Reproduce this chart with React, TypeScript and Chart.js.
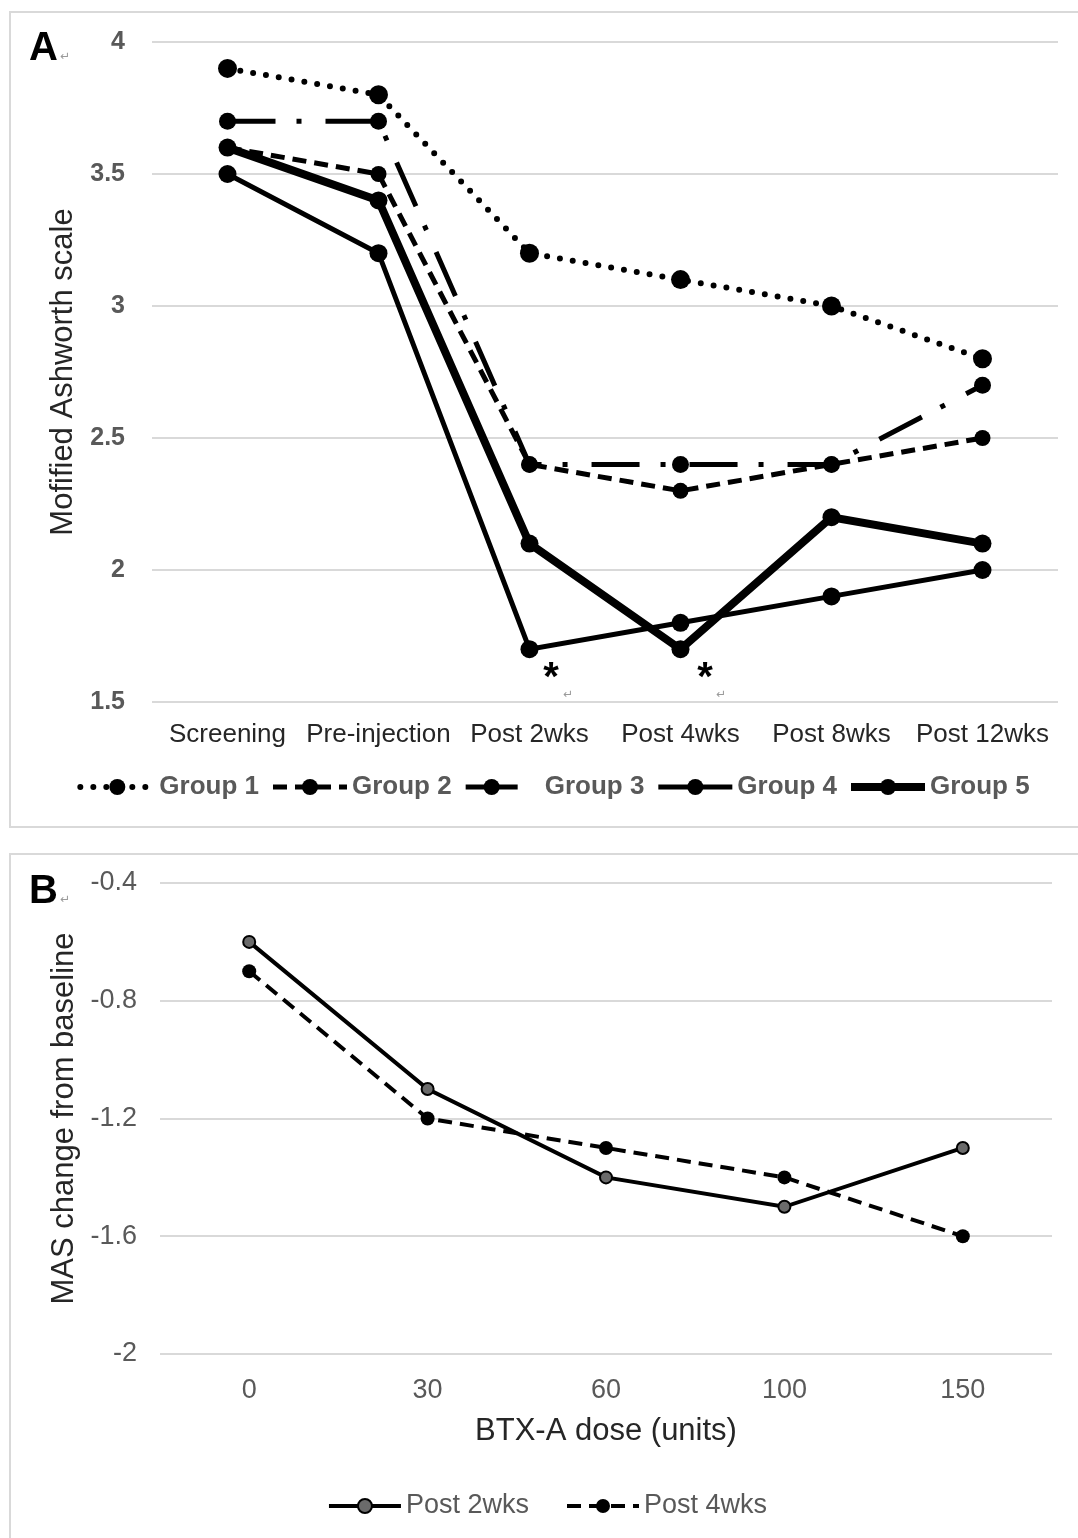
import React, { useEffect, useRef } from 'react';
import { Chart, registerables } from 'chart.js';

Chart.register(...registerables);

const FONT = '"Liberation Sans", Arial, Helvetica, sans-serif';

// ---------- Data: panel A ----------
const categoriesA = ['Screening', 'Pre-injection', 'Post 2wks', 'Post 4wks', 'Post 8wks', 'Post 12wks'];
const group1 = [3.9, 3.8, 3.2, 3.1, 3.0, 2.8];
const group2 = [3.6, 3.5, 2.4, 2.3, 2.4, 2.5];
const group3 = [3.7, 3.7, 2.4, 2.4, 2.4, 2.7];
const group4 = [3.5, 3.2, 1.7, 1.8, 1.9, 2.0];
const group5 = [3.6, 3.4, 2.1, 1.7, 2.2, 2.1];
const groupLabels = ['Group 1', 'Group 2', 'Group 3', 'Group 4', 'Group 5'];
const yMinA = 1.5;
const yMaxA = 4;
const yStepA = 0.5;

// ---------- Data: panel B ----------
const doseLabels = ['0', '30', '60', '100', '150'];
const post2wks = [-0.6, -1.1, -1.4, -1.5, -1.3];
const post4wks = [-0.7, -1.2, -1.3, -1.4, -1.6];
const seriesLabelsB = ['Post 2wks', 'Post 4wks'];
const yMinB = -2;
const yMaxB = -0.4;
const yStepB = 0.4;

const fmtTick = (v: any) => String(Number(Number(v).toFixed(2)));

type LegendItem = { label: string; ds: number; lineLen?: number };
type TextItem = {
  text: string; x: number; y: number; font: string; color: string;
  center?: boolean;
};
type OverlayCfg = {
  legend: {
    items: LegendItem[]; centerX: number; y: number; font: string; color: string;
    sampleW: number; gap: number; itemGap: number; markerR: number;
  };
  texts: TextItem[];
};

function drawSample(ctx: CanvasRenderingContext2D, ds: any, x0: number, len: number, y: number, r: number) {
  ctx.save();
  ctx.strokeStyle = ds.borderColor;
  ctx.lineWidth = ds.borderWidth;
  ctx.lineCap = ds.borderCapStyle || 'butt';
  ctx.setLineDash(ds.legendDash || ds.borderDash || []);
  ctx.beginPath();
  ctx.moveTo(x0, y);
  ctx.lineTo(x0 + len, y);
  ctx.stroke();
  ctx.setLineDash([]);
  ctx.beginPath();
  ctx.arc(x0 + len / 2, y, r, 0, Math.PI * 2);
  ctx.fillStyle = ds.pointBackgroundColor;
  ctx.fill();
  if (ds.pointBorderWidth) {
    ctx.lineWidth = ds.pointBorderWidth;
    ctx.strokeStyle = ds.pointBorderColor;
    ctx.stroke();
  }
  ctx.restore();
}

function makeOverlay(id: string, cfg: OverlayCfg) {
  return {
    id,
    afterDraw(chart: any) {
      const ctx: CanvasRenderingContext2D = chart.ctx;
      ctx.save();
      const L = cfg.legend;
      ctx.font = L.font;
      const widths = L.items.map((it) => ctx.measureText(it.label).width);
      const total = widths.reduce((s, w) => s + L.sampleW + L.gap + w, 0) + L.itemGap * (L.items.length - 1);
      let x = L.centerX - total / 2;
      L.items.forEach((it, i) => {
        const ds = chart.data.datasets[it.ds];
        drawSample(ctx, ds, x, it.lineLen ?? L.sampleW, L.y, L.markerR);
        ctx.font = L.font;
        ctx.fillStyle = L.color;
        ctx.textAlign = 'left';
        ctx.textBaseline = 'middle';
        ctx.fillText(it.label, x + L.sampleW + L.gap, L.y);
        x += L.sampleW + L.gap + widths[i] + L.itemGap;
      });
      cfg.texts.forEach((t) => {
        ctx.font = t.font;
        ctx.fillStyle = t.color;
        if (t.center) {
          const m = ctx.measureText(t.text);
          ctx.textAlign = 'center';
          ctx.textBaseline = 'alphabetic';
          const yb = t.y + (m.actualBoundingBoxAscent - m.actualBoundingBoxDescent) / 2;
          ctx.fillText(t.text, t.x, yb);
        } else {
          ctx.textAlign = 'left';
          ctx.textBaseline = 'alphabetic';
          ctx.fillText(t.text, t.x, t.y);
        }
      });
      ctx.restore();
    },
  };
}

const W = 1078;
const HA = 840;
const TOPB = 840;
const HB = 1538 - TOPB;

export default function App() {
  const refA = useRef<HTMLCanvasElement>(null);
  const refB = useRef<HTMLCanvasElement>(null);

  useEffect(() => {
    Chart.defaults.font.family = FONT;
    const black = '#000000';
    const common = (data: number[], label: string, extra: any) => ({
      label,
      data,
      borderColor: black,
      backgroundColor: black,
      pointBackgroundColor: black,
      pointBorderWidth: 0,
      pointRadius: 9,
      pointHoverRadius: 9,
      tension: 0,
      fill: false,
      ...extra,
    });

    const chartA = new Chart(refA.current!, {
      type: 'line',
      data: {
        labels: categoriesA,
        datasets: [
          common(group1, groupLabels[0], { borderWidth: 6, borderDash: [0, 13], borderCapStyle: 'round', pointRadius: 9.5 }),
          common(group2, groupLabels[1], { borderWidth: 5, borderDash: [14, 8], pointRadius: 8 }),
          common(group3, groupLabels[2], { borderWidth: 5, borderDash: [48, 21, 5, 24], legendDash: [], pointRadius: 8.5 }),
          common(group4, groupLabels[3], { borderWidth: 5 }),
          common(group5, groupLabels[4], { borderWidth: 8 }),
        ],
      },
      options: {
        responsive: false,
        maintainAspectRatio: false,
        animation: false,
        devicePixelRatio: 1,
        events: [],
        layout: { padding: { top: 42, right: W - 1058, left: 0, bottom: 0 } },
        plugins: { legend: { display: false }, tooltip: { enabled: false } },
        scales: {
          x: {
            type: 'category',
            offset: true,
            grid: { display: false },
            border: { display: false },
            ticks: {
              color: '#262626',
              font: { size: 26, family: FONT },
              padding: 9,
              maxRotation: 0,
              minRotation: 0,
              autoSkip: false,
            },
            afterFit: (s: any) => { s.height = HA - 702; },
          },
          y: {
            min: yMinA,
            max: yMaxA,
            grid: { color: '#d9d9d9', lineWidth: 2, drawTicks: false },
            border: { display: false },
            ticks: {
              stepSize: yStepA,
              color: '#595959',
              font: { size: 25, weight: 'bold', family: FONT },
              padding: 27,
              autoSkip: false,
              callback: fmtTick,
            },
            title: {
              display: true,
              text: 'Mofified Ashworth scale',
              color: '#262626',
              font: { size: 31, family: FONT },
              padding: { top: 45, bottom: 0 },
            },
            afterFit: (s: any) => { s.width = 152; },
          },
        },
      } as any,
      plugins: [
        makeOverlay('overlayA', {
          legend: {
            items: [
              { label: groupLabels[0], ds: 0 },
              { label: groupLabels[1], ds: 1 },
              { label: groupLabels[2], ds: 2, lineLen: 52 },
              { label: groupLabels[3], ds: 3 },
              { label: groupLabels[4], ds: 4 },
            ],
            centerX: 555,
            y: 787,
            font: `bold 26px ${FONT}`,
            color: '#595959',
            sampleW: 74,
            gap: 5,
            itemGap: 14,
            markerR: 8,
          },
          texts: [
            { text: 'A', x: 29, y: 60, font: `bold 40px ${FONT}`, color: '#000' },
            { text: '↵', x: 60, y: 60, font: `12px "DejaVu Sans", sans-serif`, color: '#9a9a9a' },
            { text: '*', x: 551, y: 670, font: `bold 40px ${FONT}`, color: '#000', center: true },
            { text: '*', x: 705, y: 670, font: `bold 40px ${FONT}`, color: '#000', center: true },
            { text: '↵', x: 563, y: 698, font: `12px "DejaVu Sans", sans-serif`, color: '#9a9a9a' },
            { text: '↵', x: 716, y: 698, font: `12px "DejaVu Sans", sans-serif`, color: '#9a9a9a' },
          ],
        }),
      ],
    });

    const chartB = new Chart(refB.current!, {
      type: 'line',
      data: {
        labels: doseLabels,
        datasets: [
          {
            label: seriesLabelsB[0],
            data: post2wks,
            borderColor: black,
            borderWidth: 4,
            pointBackgroundColor: '#6b6b6b',
            pointBorderColor: black,
            pointBorderWidth: 2,
            pointRadius: 6,
            pointHoverRadius: 6,
            tension: 0,
            fill: false,
          },
          {
            label: seriesLabelsB[1],
            data: post4wks,
            borderColor: black,
            borderWidth: 4,
            borderDash: [14, 8],
            pointBackgroundColor: black,
            pointBorderColor: black,
            pointBorderWidth: 0,
            pointRadius: 7,
            pointHoverRadius: 7,
            tension: 0,
            fill: false,
          },
        ],
      },
      options: {
        responsive: false,
        maintainAspectRatio: false,
        animation: false,
        devicePixelRatio: 1,
        events: [],
        layout: { padding: { top: 883 - TOPB, right: W - 1052, left: 0, bottom: 0 } },
        plugins: { legend: { display: false }, tooltip: { enabled: false } },
        scales: {
          x: {
            type: 'category',
            offset: true,
            grid: { display: false },
            border: { display: false },
            ticks: {
              color: '#595959',
              font: { size: 27, family: FONT },
              padding: 12,
              maxRotation: 0,
              minRotation: 0,
              autoSkip: false,
            },
            title: {
              display: true,
              text: 'BTX-A dose (units)',
              color: '#262626',
              font: { size: 31, family: FONT },
              padding: { top: 0, bottom: 88 },
            },
            afterFit: (s: any) => { s.height = HB - (1354 - TOPB); },
          },
          y: {
            min: yMinB,
            max: yMaxB,
            grid: { color: '#d9d9d9', lineWidth: 2, drawTicks: false },
            border: { display: false },
            ticks: {
              stepSize: yStepB,
              color: '#595959',
              font: { size: 27, family: FONT },
              padding: 23,
              autoSkip: false,
              callback: fmtTick,
            },
            title: {
              display: true,
              text: 'MAS change from baseline',
              color: '#262626',
              font: { size: 31, family: FONT },
              padding: { top: 46, bottom: 0 },
            },
            afterFit: (s: any) => { s.width = 160; },
          },
        },
      } as any,
      plugins: [
        makeOverlay('overlayB', {
          legend: {
            items: [
              { label: seriesLabelsB[0], ds: 0 },
              { label: seriesLabelsB[1], ds: 1 },
            ],
            centerX: 548,
            y: 1506 - TOPB,
            font: `27px ${FONT}`,
            color: '#595959',
            sampleW: 72,
            gap: 5,
            itemGap: 38,
            markerR: 7,
          },
          texts: [
            { text: 'B', x: 29, y: 903 - TOPB, font: `bold 40px ${FONT}`, color: '#000' },
            { text: '↵', x: 60, y: 903 - TOPB, font: `12px "DejaVu Sans", sans-serif`, color: '#9a9a9a' },
          ],
        }),
      ],
    });

    return () => {
      chartA.destroy();
      chartB.destroy();
    };
  }, []);

  return (
    <div style={{ position: 'absolute', left: 0, top: 0, width: W, height: 1538, overflow: 'hidden', background: '#fff' }}>
      <div style={{ position: 'absolute', left: 9, top: 11, width: 1200, height: 817, boxSizing: 'border-box', border: '2px solid #d9d9d9' }} />
      <div style={{ position: 'absolute', left: 9, top: 853, width: 1200, height: 900, boxSizing: 'border-box', border: '2px solid #d9d9d9' }} />
      <canvas ref={refA} width={W} height={HA} style={{ position: 'absolute', left: 0, top: 0, width: W, height: HA }} />
      <canvas ref={refB} width={W} height={HB} style={{ position: 'absolute', left: 0, top: TOPB, width: W, height: HB }} />
    </div>
  );
}
